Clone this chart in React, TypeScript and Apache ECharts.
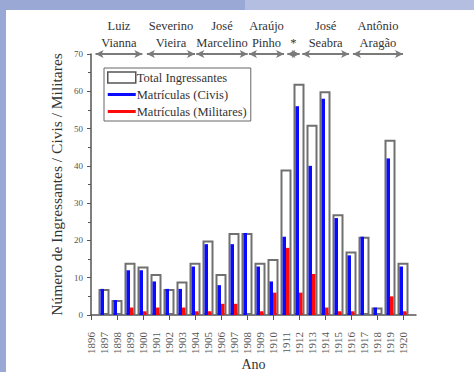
import React, { useEffect, useRef } from "react";
import * as echarts from "echarts";

const years = [1897, 1898, 1899, 1900, 1901, 1902, 1903, 1904, 1905, 1906, 1907, 1908, 1909, 1910, 1911, 1912, 1913, 1914, 1915, 1916, 1917, 1918, 1919, 1920];
const totalIngressantes = [7, 4, 14, 13, 11, 7, 9, 14, 20, 11, 22, 22, 14, 15, 39, 62, 51, 60, 27, 17, 21, 2, 47, 14];
const matriculasCivis = [7, 4, 12, 12, 9, 7, 7, 13, 19, 8, 19, 22, 13, 9, 21, 56, 40, 58, 26, 16, 21, 2, 42, 13];
const matriculasMilitares = [0, 0, 2, 1, 2, 0, 2, 1, 1, 3, 3, 0, 1, 6, 18, 6, 11, 2, 1, 1, 0, 0, 5, 1];

const yearLabels = [1896, 1897, 1898, 1899, 1900, 1901, 1902, 1903, 1904, 1905, 1906, 1907, 1908, 1909, 1910, 1911, 1912, 1913, 1914, 1915, 1916, 1917, 1918, 1919, 1920];
const tickYears = [1896, 1898, 1900, 1902, 1904, 1906, 1908, 1910, 1912, 1914, 1916, 1918, 1920];

const governorNames = ["Luiz\nVianna", "Severino\nVieira", "José\nMarcelino", "Araújo\nPinho", "*", "José\nSeabra", "Antônio\nAragão"];
const governorStart = [1896.35, 1900.3, 1904.1, 1908.15, 1911.1, 1912.25, 1916.15];
const governorEnd = [1899.95, 1904.0, 1908.05, 1910.85, 1912.05, 1915.85, 1920.0];

const SERIF = "'Liberation Serif', 'DejaVu Serif', serif";

export default function App() {
  const ref = useRef<HTMLDivElement>(null);
  useEffect(() => {
    const chart = echarts.init(ref.current!, null, { renderer: "svg" });
    const markData = governorNames.map((n, i) => [
      { coord: [governorStart[i], 70], name: n },
      { coord: [governorEnd[i], 70] },
    ]);
    chart.setOption({
      animation: false,
      backgroundColor: "#ffffff",
      grid: { left: 85, top: 44, right: 58, bottom: 57, containLabel: false, outerBoundsMode: "none" },
      legend: {
        left: 98,
        top: 58,
        orient: "vertical",
        itemWidth: 28,
        itemHeight: 11,
        itemGap: 4,
        borderColor: "#666",
        borderWidth: 1,
        padding: [3, 4, 3, 3],
        textStyle: { fontFamily: SERIF, fontSize: 12.5, color: "#333", padding: [0, 0, 0, -4] },
        data: [
          { name: "Total Ingressantes", icon: "rect", itemStyle: { color: "#fff", borderColor: "#555", borderWidth: 1.5 } },
          { name: "Matrículas (Civis)", icon: "path://M0,0H28V3H0Z" },
          { name: "Matrículas (Militares)", icon: "path://M0,0H28V3H0Z" },
        ],
      },
      xAxis: [
        {
          type: "value",
          min: 1896,
          max: 1921,
          interval: 1,
          name: "Ano",
          nameLocation: "middle",
          nameGap: 42,
          nameMoveOverlap: false,
          nameTextStyle: { fontFamily: SERIF, fontSize: 14, color: "#333" },
          axisLine: { show: true, lineStyle: { color: "#555", width: 1.5 } },
          axisTick: { show: true, length: 5, customValues: tickYears, lineStyle: { color: "#555" } },
          axisLabel: {
            customValues: yearLabels,
            rotate: 90,
            margin: 17,
            fontFamily: SERIF,
            fontSize: 11,
            color: "#555",
            formatter: (v: number) => String(v),
          },
          splitLine: { show: false },
        },
        { type: "value", min: 1896, max: 1921, show: false },
      ],
      yAxis: {
        type: "value",
        min: 0,
        max: 70,
        interval: 10,
        name: "Número de Ingressantes / Civis / Militares",
        nameLocation: "middle",
        nameGap: 27,
        nameMoveOverlap: false,
        nameTextStyle: { fontFamily: SERIF, fontSize: 15.5, color: "#333" },
        axisLine: { show: true, lineStyle: { color: "#555", width: 1.5 } },
        axisTick: { show: true, length: 4, lineStyle: { color: "#555" } },
        minorTick: { show: true, splitNumber: 2, length: 3, lineStyle: { color: "#555" } },
        axisLabel: { fontFamily: SERIF, fontSize: 9, color: "#555", margin: 8 },
        splitLine: { show: false },
      },
      series: [
        {
          name: "Total Ingressantes",
          type: "bar",
          xAxisIndex: 0,
          barWidth: 11,
          clip: false,
          z: 1,
          itemStyle: { color: "#ffffff", borderColor: "#707070", borderWidth: 2 },
          data: years.map((y, i) => [y, totalIngressantes[i]]),
          markLine: {
            silent: true,
            animation: false,
            symbol: ["arrow", "arrow"],
            symbolSize: [6, 8],
            lineStyle: { type: "solid", color: "#7a7a7a", width: 2 },
            label: {
              show: true,
              position: "middle",
              distance: 3,
              formatter: (p: any) => p.name,
              fontFamily: SERIF,
              fontSize: 12.5,
              lineHeight: 17,
              color: "#333",
            },
            data: markData,
          },
        },
        {
          name: "Matrículas (Civis)",
          type: "bar",
          xAxisIndex: 1,
          barWidth: 3.5,
          barGap: "0%",
          z: 3,
          itemStyle: { color: "#0a0aff" },
          data: years.map((y, i) => [y, matriculasCivis[i]]),
        },
        {
          name: "Matrículas (Militares)",
          type: "bar",
          xAxisIndex: 1,
          barWidth: 3.5,
          barGap: "0%",
          z: 3,
          itemStyle: { color: "#ff0a0a" },
          data: years.map((y, i) => [y, matriculasMilitares[i]]),
        },
      ],
    });
    return () => chart.dispose();
  }, []);
  return (
    <div style={{ position: "absolute", left: 0, top: 0, width: 474, height: 372, background: "#9aa8d6", overflow: "hidden" }}>
      <div style={{ position: "absolute", left: 245, top: 0, width: 229, height: 10, background: "#b3bee0" }} />
      <div ref={ref} style={{ position: "absolute", left: 6, top: 10, width: 468, height: 362, background: "#fff" }} />
    </div>
  );
}
